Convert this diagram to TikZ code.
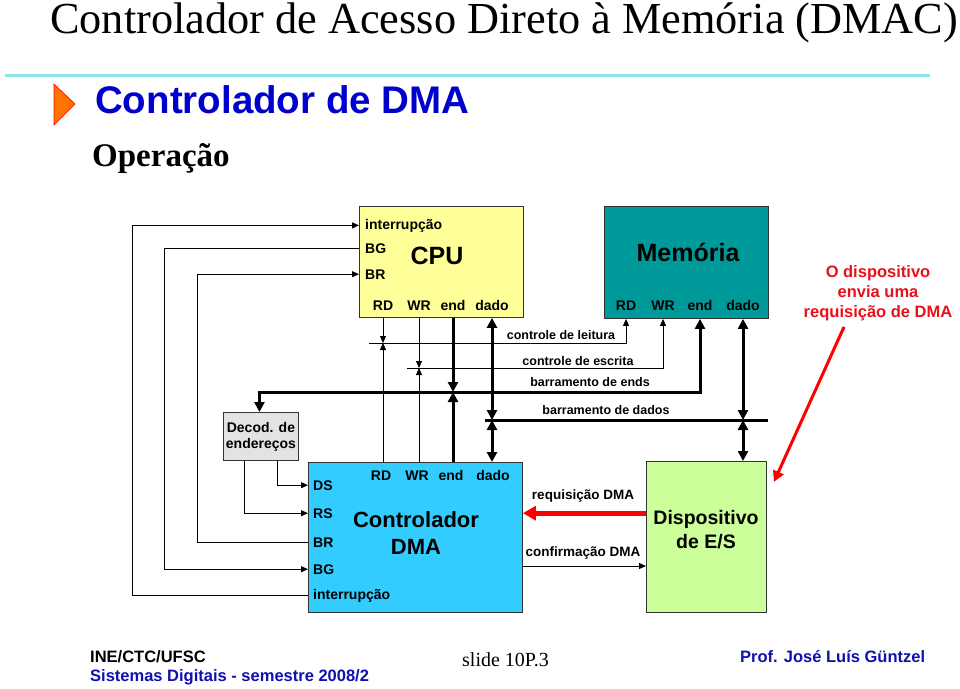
\documentclass[tikz,border=0pt]{standalone}
\usepackage{fontspec}
\setmainfont{Liberation Serif}
\setsansfont{Liberation Sans}
\usetikzlibrary{arrows.meta}

\definecolor{cpuyellow}{HTML}{FFFF99}
\definecolor{memteal}{HTML}{009999}
\definecolor{dmablue}{HTML}{33CCFF}
\definecolor{devgreen}{HTML}{CCFF99}
\definecolor{decgray}{HTML}{E3E3E3}
\definecolor{slideblue}{HTML}{0000CC}
\definecolor{footblue}{HTML}{1010B0}
\definecolor{rulecyan}{HTML}{8EE6F0}
\definecolor{notered}{HTML}{E8101A}

\tikzset{
  dmac/.style={
    x=1pt, y=-1pt,
    >={Triangle[length=7pt,width=6pt]},
    box/.style={draw=black!80, line width=0.9pt, anchor=north west, inner sep=0pt},
    pin/.style={font=\sffamily\bfseries\fontsize{14}{16}\selectfont, inner sep=0pt, anchor=base},
    buslabel/.style={font=\sffamily\bfseries\fontsize{12.5}{14}\selectfont, inner sep=0pt, anchor=base},
    unitname/.style={font=\sffamily\bfseries\fontsize{##1}{##1}\selectfont, inner sep=0pt, align=center},
    sig/.style={line width=0.9pt},
    wide/.style={line width=3pt, >={Triangle[length=10pt,width=10pt]}},
    reqline/.style={line width=5pt, red, -{Triangle[length=13pt,width=14pt]}},
    noteline/.style={line width=3pt, red, -{Triangle[length=11pt,width=11pt]}},
  }
}

\begin{document}
\begin{tikzpicture}[dmac]
\useasboundingbox (0,0) rectangle (960,688);

% slide head
\node[font=\fontsize{44.3}{44}\selectfont, inner sep=0pt, anchor=base west] (headline) at (50,33) {Controlador de Acesso Direto à Memória (DMAC)};
\draw[rulecyan, line width=3pt] (5,75) -- (930,75);
\draw[red, fill=orange!90!red, line width=0.6pt] (54,84) -- (75,104) -- (54,125) -- cycle;
\node[font=\sffamily\bfseries\fontsize{38.5}{39}\selectfont, text=slideblue, inner sep=0pt, anchor=base west] (section) at (95,113) {Controlador de DMA};
\node[font=\bfseries\fontsize{33}{33}\selectfont, inner sep=0pt, anchor=base west] (operacao) at (92,166) {Operação};

% units
\node[box, fill=cpuyellow, minimum width=164pt, minimum height=111pt] (cpu) at (359,206) {};
\node[box, fill=memteal, minimum width=164pt, minimum height=112pt] (mem) at (604,206) {};
\node[box, fill=dmablue, minimum width=214pt, minimum height=150pt] (dma) at (308,462) {};
\node[box, fill=devgreen, minimum width=120pt, minimum height=151pt] (dev) at (646,461) {};

\node[unitname=25] (cputxt) at (437,256) {CPU};
\node[unitname=25] (memtxt) at (688,252) {Memória};
\node[unitname=22, font=\sffamily\bfseries\fontsize{22}{27}\selectfont] (dmatxt) at (416,533) {Controlador\\DMA};
\node[unitname=19.5, font=\sffamily\bfseries\fontsize{19.5}{24}\selectfont] (devtxt) at (706,530) {Dispositivo\\de E/S};

% pins
\node[pin, anchor=base west] (cpuint) at (365,229) {interrupção};
\node[pin, anchor=base west] (cpubg) at (365,253) {BG};
\node[pin, anchor=base west] (cpubr) at (365,279) {BR};
\node[pin] (cpurd) at (383,310) {RD};
\node[pin] (cpuwr) at (419,310) {WR};
\node[pin] (cpuend) at (453,310) {end};
\node[pin] (cpudado) at (492,310) {dado};

\node[pin] (memrd) at (626,310) {RD};
\node[pin] (memwr) at (663,310) {WR};
\node[pin] (memend) at (700,310) {end};
\node[pin] (memdado) at (743,310) {dado};

\node[pin, anchor=base west] (dmads) at (313,490) {DS};
\node[pin, anchor=base west] (dmars) at (313,518) {RS};
\node[pin, anchor=base west] (dmabr) at (313,547) {BR};
\node[pin, anchor=base west] (dmabg) at (313,574) {BG};
\node[pin, anchor=base west] (dmaint) at (313,599) {interrupção};
\node[pin] (dmard) at (381,480) {RD};
\node[pin] (dmawr) at (417,480) {WR};
\node[pin] (dmaend) at (451,480) {end};
\node[pin] (dmadado) at (493,480) {dado};

% handshake lines
\coordinate (lint) at (132,0);
\coordinate (lbg) at (164,0);
\coordinate (lbr) at (197,0);
\draw[sig,->] (dma.west |- dmaint) -- (lint |- dmaint) -- (lint |- cpuint) -- (cpu.west |- cpuint);
\draw[sig,->] (cpu.west |- cpubg) -- (lbg |- cpubg) -- (lbg |- dmabg) -- (dma.west |- dmabg);
\draw[sig,->] (dma.west |- dmabr) -- (lbr |- dmabr) -- (lbr |- cpubr) -- (cpu.west |- cpubr);

\node[box, fill=decgray, minimum width=75pt, minimum height=48pt, align=center,
      font=\sffamily\bfseries\fontsize{14}{16}\selectfont] (dec) at (223,412) {Decod. de\\endereços};
\draw[sig,->] ([xshift=-17pt]dec.south) |- (dma.west |- dmars);
\draw[sig,->] ([xshift=16pt]dec.south) |- (dma.west |- dmads);

% buses
\coordinate (rdbus) at (369,343);
\coordinate (wrbus) at (407,368);
\coordinate (endbus) at (700,392);
\coordinate (databus) at (485,420);
\coordinate (dataend) at (768,420);

\draw[sig,->] (rdbus) -| (memrd |- mem.south);
\draw[sig,->] (cpurd |- cpu.south) -- (cpurd |- rdbus);
\draw[sig,->] (cpurd |- dma.north) -- (cpurd |- rdbus);
\draw[sig,->] (wrbus) -| (memwr |- mem.south);
\draw[sig,->] (cpuwr |- cpu.south) -- (cpuwr |- wrbus);
\draw[sig,->] (cpuwr |- dma.north) -- (cpuwr |- wrbus);

\draw[wide,<->] ([xshift=-1.5pt]dec.north) |- (endbus) -- (memend |- mem.south);
\draw[wide,->] (cpuend |- cpu.south) -- (cpuend |- endbus);
\draw[wide,->] (cpuend |- dma.north) -- (cpuend |- endbus);

\draw[wide] (databus) -- (dataend);
\draw[wide,<->] (cpudado |- cpu.south) -- (cpudado |- databus);
\draw[wide,<->] (cpudado |- dma.north) -- (cpudado |- databus);
\draw[wide,<->] (memdado |- mem.south) -- (memdado |- databus);
\draw[wide,<->] (memdado |- dev.north) -- (memdado |- databus);

\node[buslabel] (leitura) at (561,339) {controle de leitura};
\node[buslabel] (escrita) at (578,365) {controle de escrita};
\node[buslabel] (ends) at (590,386) {barramento de ends};
\node[buslabel] (dados) at (606,414) {barramento de dados};

% DMA request / grant
\coordinate (conf) at (0,566);
\draw[reqline] (dev.west |- dmars) -- (dma.east |- dmars);
\draw[sig,->] (dma.east |- conf) -- (dev.west |- conf);
\node[buslabel, font=\sffamily\bfseries\fontsize{13.5}{15}\selectfont] (reqtxt) at (583,499) {requisição DMA};
\node[buslabel, font=\sffamily\bfseries\fontsize{13.5}{15}\selectfont] (conftxt) at (583,556) {confirmação DMA};

% note
\node[font=\sffamily\bfseries\fontsize{16.5}{20}\selectfont, text=notered, align=center, inner sep=0pt] (note) at (878,293) {O dispositivo\\envia uma\\requisição de DMA};
\draw[noteline] ([xshift=-34pt,yshift=-6pt]note.south) -- ([xshift=7pt,yshift=-21pt]dev.north east);

% footer
\node[font=\sffamily\bfseries\fontsize{16.5}{18}\selectfont, inner sep=0pt, anchor=west] (inst) at (90,657) {INE/CTC/UFSC};
\node[font=\sffamily\bfseries\fontsize{16.5}{18}\selectfont, text=footblue, inner sep=0pt, anchor=west] (course) at (90,677) {Sistemas Digitais - semestre 2008/2};
\node[font=\fontsize{20}{20}\selectfont, inner sep=0pt, anchor=west] (slide) at (462,660) {slide 10P.3};
\node[font=\sffamily\bfseries\fontsize{16.5}{18}\selectfont, text=footblue, inner sep=0pt, anchor=west] (prof) at (740,657) {Prof. José Luís Güntzel};
\end{tikzpicture}
\end{document}
